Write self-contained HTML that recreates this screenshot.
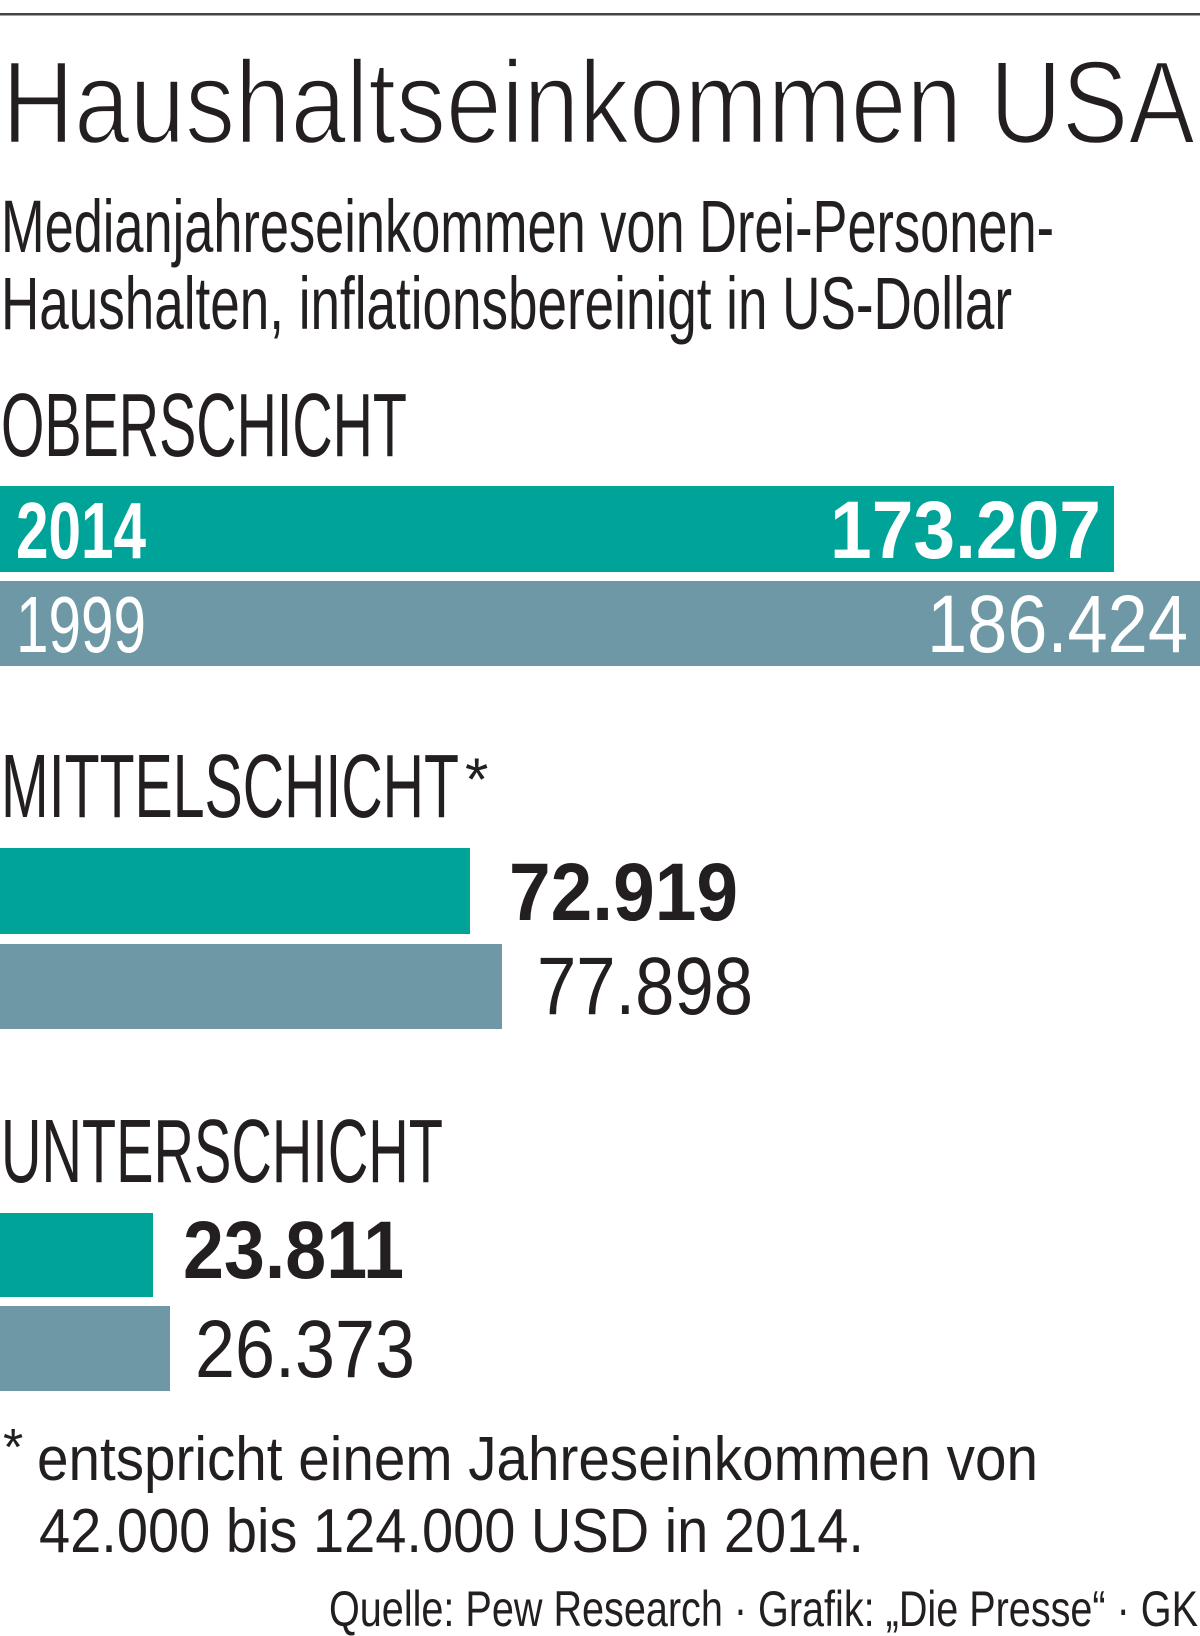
<!DOCTYPE html>
<html><head><meta charset="utf-8"><style>
html,body{margin:0;padding:0;background:#fff;}
svg{display:block;}
text{font-family:"Liberation Sans Narrow","Liberation Sans",sans-serif;fill:#231f20;}
</style></head><body>
<svg width="1200" height="1636" viewBox="0 0 1200 1636" xmlns="http://www.w3.org/2000/svg">
<rect x="0" y="13" width="1200" height="2.5" fill="#444"/>
<text x="2" y="143" font-size="118" textLength="1193" lengthAdjust="spacingAndGlyphs" stroke="#fff" stroke-width="2.5">Haushaltseinkommen USA</text>
<text x="1" y="252" font-size="74" textLength="1053" lengthAdjust="spacingAndGlyphs">Medianjahreseinkommen von Drei-Personen-</text>
<text x="1" y="329" font-size="74" textLength="1011" lengthAdjust="spacingAndGlyphs">Haushalten, inflationsbereinigt in US-Dollar</text>

<text x="1" y="456" font-size="90" textLength="406" lengthAdjust="spacingAndGlyphs">OBERSCHICHT</text>
<rect x="0" y="486" width="1114" height="86" fill="#00a398"/>
<text x="16" y="558" font-size="80" font-weight="bold" textLength="130" lengthAdjust="spacingAndGlyphs" style="fill:#fff">2014</text>
<text x="830" y="558" font-size="82" font-weight="bold" textLength="271" lengthAdjust="spacingAndGlyphs" style="fill:#fff">173.207</text>
<rect x="0" y="581" width="1200" height="85" fill="#6e98a6"/>
<text x="16" y="652" font-size="80" textLength="130" lengthAdjust="spacingAndGlyphs" style="fill:#fff">1999</text>
<text x="927" y="652" font-size="82" textLength="261" lengthAdjust="spacingAndGlyphs" style="fill:#fff">186.424</text>

<text x="1" y="817" font-size="90" textLength="458" lengthAdjust="spacingAndGlyphs">MITTELSCHICHT</text>
<text x="465" y="800" font-size="60">*</text>
<rect x="0" y="848" width="470" height="86" fill="#00a398"/>
<text x="509" y="920" font-size="82" font-weight="bold" textLength="229" lengthAdjust="spacingAndGlyphs">72.919</text>
<rect x="0" y="944" width="502" height="85" fill="#6e98a6"/>
<text x="537" y="1014" font-size="82" textLength="216" lengthAdjust="spacingAndGlyphs">77.898</text>

<text x="1" y="1182" font-size="90" textLength="442" lengthAdjust="spacingAndGlyphs">UNTERSCHICHT</text>
<rect x="0" y="1213" width="153" height="84" fill="#00a398"/>
<text x="183" y="1278" font-size="82" font-weight="bold" textLength="221" lengthAdjust="spacingAndGlyphs">23.811</text>
<rect x="0" y="1306" width="170" height="85" fill="#6e98a6"/>
<text x="195" y="1377" font-size="82" textLength="220" lengthAdjust="spacingAndGlyphs">26.373</text>

<text x="3" y="1465" font-size="52">*</text>
<text x="37" y="1480" font-size="62" textLength="1001" lengthAdjust="spacingAndGlyphs">entspricht einem Jahreseinkommen von</text>
<text x="39" y="1552" font-size="62" textLength="825" lengthAdjust="spacingAndGlyphs">42.000 bis 124.000 USD in 2014.</text>
<text x="329" y="1626" font-size="50" textLength="869" lengthAdjust="spacingAndGlyphs">Quelle: Pew Research · Grafik: „Die Presse“ · GK</text>
</svg>
</body></html>
